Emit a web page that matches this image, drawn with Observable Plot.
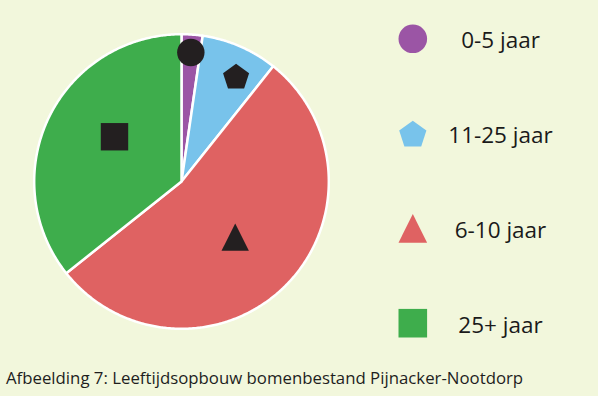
<!DOCTYPE html>
<html>
<head>
<meta charset="utf-8">
<script src="https://cdn.jsdelivr.net/npm/d3@7"></script>
<script src="https://cdn.jsdelivr.net/npm/@observablehq/plot@0.6"></script>
<style>
  html, body { margin: 0; padding: 0; background: #f2f7dc; }
  #chart { position: relative; width: 598px; height: 396px; overflow: hidden; background: #f2f7dc; }
  #chart svg { display: block; }
  #caption { position: absolute; left: 6px; top: 366px; font-family: "Open Sans", sans-serif; font-size: 16.8px; line-height: normal; color: #1e1e1e; white-space: nowrap; }
</style>
</head>
<body>
<div id="chart"></div>
<script>
// ---- data ----
const categories = ["0-5 jaar", "11-25 jaar", "6-10 jaar", "25+ jaar"];
const shares = [2.3, 8.4, 53.6, 35.7];          // percent, clockwise from 12 o'clock
const colors = ["#9b55a5", "#78c3eb", "#df6262", "#3ead4c"];
const captionText = "Afbeelding 7: Leeftijdsopbouw bomenbestand Pijnacker-Nootdorp";

// ---- layout / style ----
const W = 598, H = 362;
const cx = 181, cy = 181, R = 147.3;             // pie centre and radius in px
const symbolKinds = ["circle", "pentagon", "triangle", "square"];
const markerRadius = [0.878, 0.805, 0.525, 0.547];  // fraction of radius
const markerNudge = [0, 4, 1, 8];                // degrees
const legendSymbolX = 412.3, legendTextX = 500, legendTop = 38.3, legendStep = 94.8;
const markerSize = 13.7, legendSize = 14.3;

const px2x = px => (px - cx) / R;
const px2y = py => (cy - py) / R;

// custom symbols (half extent = sqrt(size/pi))
const half = size => Math.sqrt(size / Math.PI);
const symbols = {
  circle: {draw(ctx, size) { const r = half(size); ctx.moveTo(r, 0); ctx.arc(0, 0, r, 0, 2 * Math.PI); }},
  pentagon: {draw(ctx, size) {
    const r = half(size);
    const off = 0.0955 * r;
    for (let k = 0; k < 5; k++) {
      const a = -Math.PI / 2 + k * 2 * Math.PI / 5;
      const x = r * Math.cos(a), y = r * Math.sin(a) + off;
      if (k === 0) ctx.moveTo(x, y); else ctx.lineTo(x, y);
    }
    ctx.closePath();
  }},
  triangle: {draw(ctx, size) { const r = half(size); ctx.moveTo(0, -r); ctx.lineTo(r, r); ctx.lineTo(-r, r); ctx.closePath(); }},
  square: {draw(ctx, size) { const r = half(size); ctx.rect(-r, -r, 2 * r, 2 * r); }}
};

// slice geometry in unit coordinates (angle clockwise from top)
const total = d3.sum(shares);
let acc = 0;
const slices = categories.map((cat, i) => {
  const a0 = acc / total * 2 * Math.PI;
  acc += shares[i];
  const a1 = acc / total * 2 * Math.PI;
  return {cat, i, a0, a1, mid: (a0 + a1) / 2};
});

const sliceRows = [];
for (const s of slices) {
  sliceRows.push({cat: s.cat, x: 0, y: 0});
  const n = Math.max(2, Math.ceil((s.a1 - s.a0) / (Math.PI / 360)));
  for (let k = 0; k <= n; k++) {
    const a = s.a0 + (s.a1 - s.a0) * k / n;
    sliceRows.push({cat: s.cat, x: Math.sin(a), y: Math.cos(a)});
  }
}

const markerRows = slices.map(s => {
  const a = s.mid + markerNudge[s.i] * Math.PI / 180;
  const r = markerRadius[s.i];
  return {cat: s.cat, i: s.i, x: r * Math.sin(a), y: r * Math.cos(a)};
});

const legendRows = categories.map((cat, i) => ({
  cat, i,
  sx: px2x(legendSymbolX),
  tx: px2x(legendTextX),
  y: px2y(legendTop + i * legendStep)
}));

const marks = [
  Plot.line(sliceRows, {
    x: "x", y: "y", z: "cat", fill: "cat",
    stroke: "white", strokeWidth: 2.5, strokeLinejoin: "round",
    curve: "linear-closed"
  })
];
for (const m of markerRows) {
  marks.push(Plot.dot([m], {x: "x", y: "y", r: markerSize, symbol: symbols[symbolKinds[m.i]], fill: "#231f20", stroke: "none"}));
}
for (const l of legendRows) {
  marks.push(Plot.dot([l], {x: "sx", y: "y", r: legendSize, symbol: symbols[symbolKinds[l.i]], fill: colors[l.i], stroke: "none"}));
}
marks.push(Plot.text(legendRows, {
  x: "tx", y: "y", text: "cat", textAnchor: "middle", lineAnchor: "middle", dy: 2.3,
  fontSize: 22.5, fontFamily: "Open Sans", fill: "#1a1a1a"
}));

const chart = Plot.plot({
  width: W, height: H,
  margin: 0,
  x: {domain: [px2x(0), px2x(W)], axis: null},
  y: {domain: [px2y(H), px2y(0)], axis: null},
  color: {domain: categories, range: colors},
  style: {background: "transparent", fontFamily: "Open Sans", overflow: "visible"},
  marks
});

const host = document.getElementById("chart");
host.appendChild(chart);
const cap = document.createElement("div");
cap.id = "caption";
cap.textContent = captionText;
host.appendChild(cap);
</script>
</body>
</html>
